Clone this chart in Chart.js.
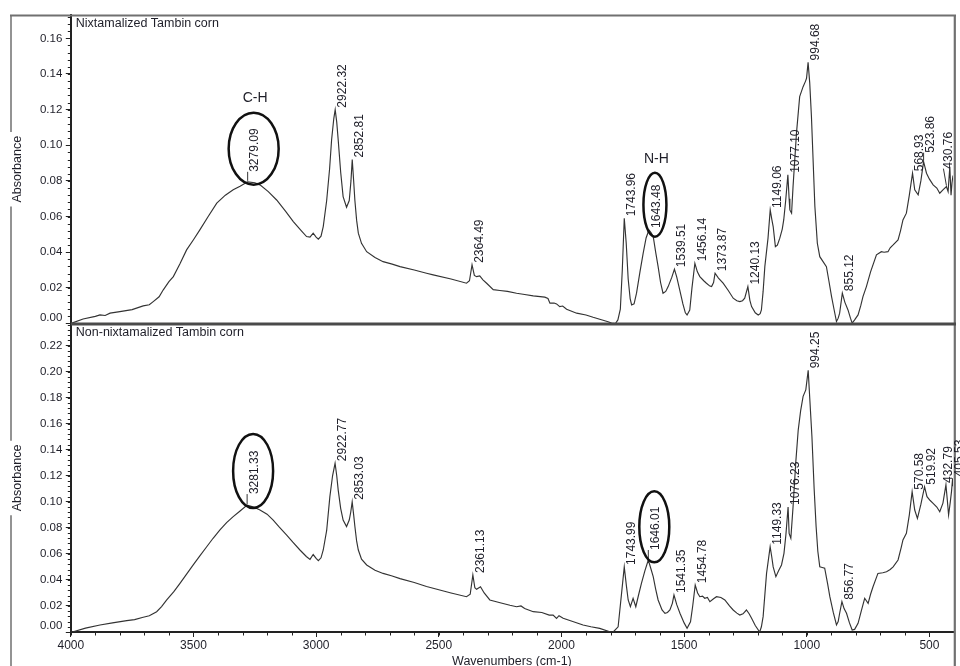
<!DOCTYPE html>
<html><head><meta charset="utf-8">
<script src="https://cdn.jsdelivr.net/npm/chart.js@4.4.1/dist/chart.umd.min.js"></script>
<style>
html,body{margin:0;padding:0;background:#fff;width:960px;height:666px;overflow:hidden;}
#wrapTop{position:absolute;left:0;top:0;width:960px;height:324px;}
#wrapBot{position:absolute;left:0;top:324px;width:960px;height:342px;}
canvas{display:block;}
</style></head><body>
<div id="wrapBot"><canvas id="cBot" width="960" height="342"></canvas></div>
<div id="wrapTop"><canvas id="cTop" width="960" height="324"></canvas></div>
<script>
// ---------- DATA ----------
const xTicks = [4000, 3500, 3000, 2500, 2000, 1500, 1000, 500];
const yTicksTop = [0.00, 0.02, 0.04, 0.06, 0.08, 0.10, 0.12, 0.14, 0.16];
const yTicksBot = [0.00, 0.02, 0.04, 0.06, 0.08, 0.10, 0.12, 0.14, 0.16, 0.18, 0.20, 0.22];

const topTitle = "Nixtamalized Tambin corn";
const botTitle = "Non-nixtamalized Tambin corn";

const topWn = [4000,3990,3950,3900,3881,3860,3840,3800,3750,3705,3680,3664,3640,3623,3600,3582,3555,3528,3500,3474,3440,3405,3370,3338,3310,3279.09,3250,3229,3195,3161,3125,3093,3060,3039,3025,3012,3000,2991,2980,2971,2957,2945,2937,2928,2922.32,2916,2910,2900,2890,2876,2865,2858,2852.81,2847,2842,2835,2828,2815,2794,2760,2727,2690,2658,2600,2550,2523,2450,2387,2375,2364.49,2355,2346,2333,2320,2305,2278,2251,2220,2183,2150,2115,2068,2055,2047,2030,2020,2007,1995,1979,1938,1900,1871,1844,1810,1796,1780,1770,1760,1752,1743.96,1736,1728,1720,1714,1704,1694,1680,1667,1655,1643.48,1635,1626,1616,1606,1596,1586,1575,1565,1550,1539.51,1530,1518,1505,1495,1488,1477,1468,1456.14,1446,1436,1420,1409,1395,1388,1380,1373.87,1360,1341,1320,1300,1285,1273,1262,1253,1240.13,1232,1225,1210,1198,1190,1185,1178,1171,1158,1149.06,1142,1137,1128,1120,1110,1100,1094,1086,1077.10,1072,1069,1062,1056,1042,1029,1015,1005,1001,994.68,988,981,967,957,947,935,920,910,899,889,879,872,866,855.12,845,832,822,815,805,791,780,771,757,740,716,696,685,669,660,648,628,618,608,594,582,568.93,560,546,535,523.86,512,500,485,470,458,445,430.76,424,417,412,408,404];
const topAbs = [0.0003,0.0005,0.0025,0.0040,0.0048,0.0045,0.0058,0.0067,0.0078,0.0099,0.0105,0.0123,0.0150,0.0189,0.0235,0.0263,0.0335,0.0413,0.0470,0.0525,0.0600,0.0675,0.0720,0.0750,0.0770,0.0795,0.0790,0.0778,0.0740,0.0693,0.0630,0.0572,0.0520,0.0488,0.0485,0.0507,0.0485,0.0473,0.0490,0.0544,0.0690,0.0870,0.1030,0.1150,0.1200,0.1130,0.1030,0.0850,0.0712,0.0652,0.0690,0.0800,0.0920,0.0800,0.0690,0.0580,0.0507,0.0450,0.0403,0.0370,0.0347,0.0333,0.0319,0.0300,0.0282,0.0273,0.0250,0.0226,0.0240,0.0329,0.0270,0.0263,0.0267,0.0245,0.0226,0.0190,0.0185,0.0180,0.0170,0.0163,0.0155,0.0148,0.0140,0.0114,0.0115,0.0110,0.0095,0.0098,0.0080,0.0058,0.0048,0.0035,0.0024,0.0010,0.0002,0.0000,0.0020,0.0080,0.0300,0.0590,0.0450,0.0250,0.0140,0.0104,0.0110,0.0170,0.0290,0.0394,0.0480,0.0525,0.0510,0.0488,0.0400,0.0319,0.0230,0.0170,0.0180,0.0207,0.0260,0.0305,0.0260,0.0189,0.0110,0.0060,0.0048,0.0076,0.0200,0.0338,0.0290,0.0263,0.0240,0.0226,0.0210,0.0207,0.0230,0.0282,0.0255,0.0226,0.0185,0.0142,0.0128,0.0123,0.0128,0.0142,0.0207,0.0130,0.0095,0.0060,0.0048,0.0055,0.0076,0.0180,0.0319,0.0479,0.0637,0.0580,0.0544,0.0431,0.0440,0.0479,0.0530,0.0581,0.0690,0.0834,0.0700,0.0637,0.0619,0.0768,0.1068,0.1273,0.1329,0.1360,0.1376,0.1465,0.1350,0.1160,0.0656,0.0450,0.0375,0.0350,0.0319,0.0240,0.0151,0.0080,0.0011,0.0030,0.0058,0.0170,0.0120,0.0076,0.0030,0.0002,0.0020,0.0048,0.0100,0.0151,0.0207,0.0290,0.0385,0.0403,0.0400,0.0403,0.0425,0.0441,0.0469,0.0520,0.0581,0.0619,0.0720,0.0843,0.0750,0.0722,0.0800,0.0908,0.0843,0.0810,0.0778,0.0760,0.0731,0.0750,0.0768,0.0740,0.0880,0.0720,0.0790,0.0830];

const botWn = [4000,3990,3940,3881,3830,3772,3740,3705,3680,3650,3630,3609,3580,3555,3528,3501,3474,3446,3420,3392,3365,3338,3310,3281.33,3255,3229,3200,3175,3150,3120,3095,3066,3040,3025,3012,3000,2991,2980,2971,2957,2944,2933,2922.77,2916,2910,2900,2890,2876,2865,2859,2853.03,2847,2842,2835,2828,2815,2794,2760,2727,2690,2658,2600,2550,2523,2450,2387,2372,2361.13,2353,2346,2330,2315,2292,2250,2210,2183,2165,2150,2115,2080,2050,2034,2020,2010,1993,1960,1912,1880,1844,1803,1789,1769,1755,1743.99,1735,1728,1719,1708,1697,1685,1674,1660,1646.01,1636,1626,1616,1606,1590,1578,1568,1558,1548,1541.35,1530,1517,1500,1488,1474,1465,1454.78,1445,1436,1425,1416,1405,1395,1380,1368,1350,1334,1315,1300,1285,1273,1260,1246,1235,1225,1210,1192,1185,1178,1164,1149.33,1143,1137,1126,1115,1103,1093,1085,1076.23,1072,1065,1056,1045,1035,1025,1015,1004,994.25,988,979,970,962,955,947,937,927,915,906,892,879,872,866,856.77,848,838,826,815,805,791,778,764,750,740,730,710,690,675,660,648,628,615,608,594,582,570.58,560,549,535,519.92,510,497,485,470,458,445,432.79,427,422,415,410,405.53,404];
const botAbs = [0.0000,0.0002,0.0030,0.0054,0.0070,0.0087,0.0095,0.0113,0.0125,0.0156,0.0195,0.0246,0.0310,0.0374,0.0445,0.0515,0.0585,0.0655,0.0720,0.0784,0.0840,0.0886,0.0930,0.0975,0.0960,0.0937,0.0905,0.0860,0.0805,0.0745,0.0690,0.0630,0.0580,0.0558,0.0595,0.0565,0.0548,0.0570,0.0630,0.0780,0.1040,0.1200,0.1296,0.1200,0.1090,0.0950,0.0860,0.0810,0.0860,0.0920,0.1000,0.0900,0.0810,0.0700,0.0630,0.0560,0.0515,0.0475,0.0450,0.0430,0.0410,0.0380,0.0350,0.0336,0.0300,0.0271,0.0290,0.0438,0.0340,0.0328,0.0348,0.0300,0.0246,0.0225,0.0205,0.0194,0.0200,0.0180,0.0156,0.0150,0.0130,0.0130,0.0105,0.0125,0.0105,0.0085,0.0054,0.0040,0.0028,0.0002,0.0000,0.0040,0.0297,0.0500,0.0350,0.0246,0.0194,0.0259,0.0194,0.0290,0.0374,0.0470,0.0553,0.0490,0.0425,0.0330,0.0246,0.0170,0.0144,0.0150,0.0169,0.0220,0.0284,0.0210,0.0144,0.0070,0.0028,0.0079,0.0200,0.0360,0.0300,0.0271,0.0275,0.0259,0.0265,0.0233,0.0255,0.0271,0.0265,0.0246,0.0200,0.0169,0.0145,0.0130,0.0140,0.0169,0.0140,0.0105,0.0050,0.0000,0.0040,0.0118,0.0450,0.0655,0.0580,0.0500,0.0425,0.0470,0.0515,0.0604,0.0750,0.0960,0.0758,0.0720,0.0960,0.1300,0.1550,0.1700,0.1810,0.1860,0.2010,0.1800,0.1500,0.1100,0.0810,0.0620,0.0500,0.0495,0.0490,0.0370,0.0271,0.0150,0.0054,0.0080,0.0144,0.0233,0.0180,0.0144,0.0070,0.0015,0.0020,0.0067,0.0160,0.0259,0.0220,0.0290,0.0348,0.0450,0.0455,0.0463,0.0480,0.0500,0.0553,0.0650,0.0707,0.0758,0.0900,0.1078,0.0937,0.0873,0.0980,0.1116,0.1040,0.1010,0.0988,0.0960,0.0924,0.0990,0.1130,0.1010,0.0899,0.1000,0.1080,0.1180,0.1120];

const topPeaks = [3279.09,2922.32,2852.81,2364.49,1743.96,1643.48,1539.51,1456.14,1373.87,1240.13,1149.06,1077.10,994.68,855.12,568.93,523.86,430.76];
const botPeaks = [3281.33,2922.77,2853.03,2361.13,1743.99,1646.01,1541.35,1454.78,1149.33,1076.23,994.25,856.77,570.58,519.92,432.79,405.53];

// ---------- STYLE ----------
const FONT = '"Liberation Sans", Arial, Helvetica, sans-serif';
const X_MIN = 404, X_MAX = 4000;
const TXT = '#1e1e28';

const topStyle = {
  title: topTitle, yMinor: 0.004, xMinor: false, xTitle: false,
  frameTop: true,
  peakStyle: {'3279.09': {lift: 10}, '523.86': {lift: 9}, '430.76': {lift: 18, dx: -5}},
  ellipses: {'3279.09': {rx: 25, ry: 36, tag: 'C-H'}, '1643.48': {rx: 11.5, ry: 32, tag: 'N-H'}},
  wn: topWn, ab: topAbs, peaks: topPeaks
};
const botStyle = {
  title: botTitle, yMinor: 0.004, xMinor: 100, xTitle: 'Wavenumbers (cm-1)',
  frameTop: false,
  peakStyle: {'3281.33': {lift: 11}, '1646.01': {lift: 10}, '432.79': {dx: -5}},
  ellipses: {'3281.33': {rx: 20, ry: 37}, '1646.01': {rx: 15, ry: 35.5}},
  wn: botWn, ab: botAbs, peaks: botPeaks
};

function panelPlugin(st) {
  return {
    id: 'panelDecor',
    afterDraw(chart) {
      const ctx = chart.ctx, ca = chart.chartArea;
      const xs = chart.scales.x, ys = chart.scales.y;
      const H = chart.height;
      ctx.save();
      // minor y ticks
      ctx.strokeStyle = '#222'; ctx.lineWidth = 1;
      ctx.beginPath();
      for (let k = 0; k * st.yMinor <= ys.max + 1e-9; k++) {
        const y = Math.round(ys.getPixelForValue(k * st.yMinor)) + 0.5;
        ctx.moveTo(ca.left - 3, y); ctx.lineTo(ca.left, y);
      }
      ctx.stroke();
      // minor x ticks
      if (st.xMinor) {
        ctx.beginPath();
        for (let w = 500; w <= 4000; w += st.xMinor) {
          const x = Math.round(xs.getPixelForValue(w)) + 0.5;
          ctx.moveTo(x, ca.bottom); ctx.lineTo(x, ca.bottom + 3.5);
        }
        ctx.stroke();
      }
      // y tick labels
      ctx.fillStyle = TXT;
      ctx.font = '11.5px ' + FONT;
      ctx.textAlign = 'right'; ctx.textBaseline = 'middle';
      const yT = chart.options.scales.y.tickValues;
      yT.forEach(v => {
        let y = ys.getPixelForValue(v);
        y = Math.min(y, ca.bottom - 6);
        ctx.fillText(v.toFixed(2), ca.left - 8.5, y);
      });
      // Absorbance label
      ctx.font = '12.5px ' + FONT;
      const lab = 'Absorbance';
      const lw = ctx.measureText(lab).width;
      const cy = (ca.top + ca.bottom) / 2;
      ctx.save();
      ctx.translate(18, cy);
      ctx.rotate(-Math.PI / 2);
      ctx.textAlign = 'center'; ctx.textBaseline = 'middle';
      ctx.fillText(lab, 0, 0);
      ctx.restore();
      // frame
      ctx.strokeStyle = '#707070'; ctx.lineWidth = 1.5;
      const fx = 11;
      const y0 = st.frameTop ? ca.top : 0;
      ctx.beginPath();
      ctx.moveTo(fx, y0); ctx.lineTo(fx, cy - lw / 2 - 4);
      ctx.moveTo(fx, cy + lw / 2 + 4); ctx.lineTo(fx, H);
      ctx.stroke();
      ctx.lineWidth = 2.2;
      ctx.beginPath();
      ctx.moveTo(954.8, y0); ctx.lineTo(954.8, H);
      if (st.frameTop) { ctx.moveTo(fx - 1, ca.top + 0.5); ctx.lineTo(956, ca.top + 0.5); }
      ctx.stroke();
      // separator between panels
      ctx.strokeStyle = '#4a4a4a'; ctx.lineWidth = 2;
      ctx.beginPath();
      if (st.frameTop) { ctx.moveTo(ca.left, ca.bottom); ctx.lineTo(956, ca.bottom); }
      else { ctx.moveTo(ca.left, 0.5); ctx.lineTo(956, 0.5); }
      ctx.stroke();
      // title
      ctx.fillStyle = TXT;
      ctx.font = '12.5px ' + FONT;
      ctx.textAlign = 'left'; ctx.textBaseline = 'middle';
      ctx.fillText(st.title, ca.left + 5, ca.top + 8.5);
      // x title
      if (st.xTitle) {
        ctx.textAlign = 'center';
        ctx.fillText(st.xTitle, (ca.left + ca.right) / 2, ca.bottom + 30);
      }
      // peaks
      ctx.font = '12px ' + FONT;
      st.peaks.forEach(wn => {
        const idx = st.wn.indexOf(wn);
        if (idx < 0) return;
        const key = wn.toFixed(2);
        const ps = st.peakStyle[key] || {};
        const lift = ps.lift !== undefined ? ps.lift : 2;
        const dx = ps.dx || 0;
        const px = xs.getPixelForValue(wn);
        const py = ys.getPixelForValue(st.ab[idx]);
        const tw = ctx.measureText(key).width;
        if (lift > 3) {
          ctx.strokeStyle = '#333'; ctx.lineWidth = 1;
          ctx.beginPath();
          ctx.moveTo(px, py - 1); ctx.lineTo(px + dx * 0.6, py - lift);
          ctx.stroke();
        }
        const tx = px + 7.5 + dx, ty = py - lift;
        ctx.save();
        ctx.translate(tx, ty);
        ctx.rotate(-Math.PI / 2);
        ctx.fillStyle = TXT;
        ctx.textAlign = 'left'; ctx.textBaseline = 'middle';
        ctx.fillText(key, 0, 0);
        ctx.restore();
        const el = st.ellipses[key];
        if (el) {
          const ex = tx - 1.5, ey = ty - tw / 2 - 1.5;
          ctx.strokeStyle = '#111'; ctx.lineWidth = 2.5;
          ctx.beginPath();
          ctx.ellipse(ex, ey, el.rx, el.ry, 0, 0, Math.PI * 2);
          ctx.stroke();
          if (el.tag) {
            ctx.save();
            ctx.fillStyle = TXT;
            ctx.font = '14px ' + FONT;
            ctx.textAlign = 'center'; ctx.textBaseline = 'middle';
            ctx.fillText(el.tag, ex + 1.5, ey - el.ry - 14);
            ctx.restore();
          }
        }
      });
      ctx.restore();
    }
  };
}

function makeChart(canvasId, st, yTicks, yMax, showX, pad) {
  return new Chart(document.getElementById(canvasId), {
    type: 'line',
    data: {
      datasets: [{
        data: st.wn.map((w, i) => ({x: w, y: st.ab[i]})),
        borderColor: '#333', borderWidth: 1.15, pointRadius: 0, tension: 0, fill: false
      }]
    },
    options: {
      responsive: false, animation: false, events: [],
      layout: {padding: pad},
      plugins: {legend: {display: false}, tooltip: {enabled: false}, title: {display: false}},
      scales: {
        x: {
          type: 'linear', reverse: true, min: X_MIN, max: X_MAX, display: showX,
          afterBuildTicks: s => { s.ticks = xTicks.map(v => ({value: v})); },
          afterFit: s => { s.height = showX ? 34 : 0; },
          grid: {drawOnChartArea: false, drawTicks: true, tickLength: 5, tickColor: '#222', tickWidth: 1},
          border: {display: true, color: '#222', width: 2},
          ticks: {font: {family: FONT, size: 12}, color: TXT, padding: 1, maxRotation: 0, autoSkip: false,
                  callback: v => String(v)}
        },
        y: {
          type: 'linear', min: 0, max: yMax, tickValues: yTicks,
          afterBuildTicks: s => { s.ticks = yTicks.map(v => ({value: v})); },
          afterFit: s => { s.width = 70.8; },
          grid: {drawOnChartArea: false, drawTicks: true, tickLength: 5, tickColor: '#222', tickWidth: 1},
          border: {display: true, color: '#222', width: 2},
          ticks: {display: false}
        }
      }
    },
    plugins: [panelPlugin(st)]
  });
}

makeChart('cTop', topStyle, yTicksTop, 0.1731, false, {top: 15, right: 7, bottom: 0.5, left: 0});
makeChart('cBot', botStyle, yTicksBot, 0.2366, true, {top: 0, right: 7, bottom: 0, left: 0});
</script>
</body></html>
